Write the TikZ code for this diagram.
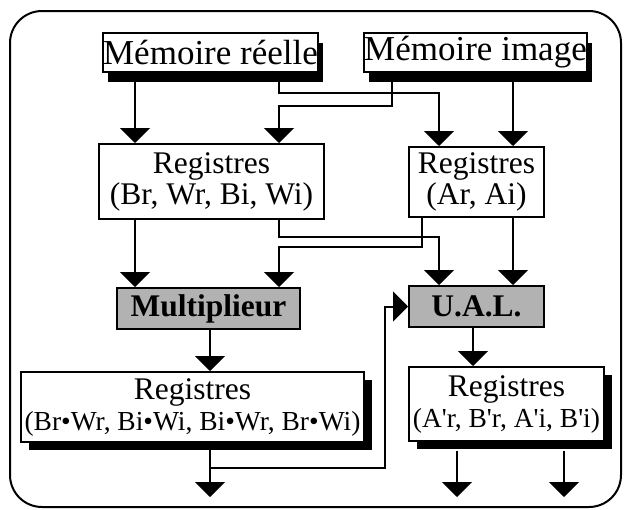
\documentclass[tikz,border=0pt]{standalone}
\usepackage{fontspec}
\setmainfont{Liberation Serif}[Ligatures=TeXOff]
\usetikzlibrary{arrows.meta,shadows,calc}
\begin{document}
\begin{tikzpicture}[x=1pt,y=-1pt,
  box/.style={draw, line width=2pt, fill=white, inner sep=0pt, align=center},
  topshadow/.style={general shadow={fill=black, shadow xshift=5pt, shadow yshift=-10pt}},
  botshadow/.style={general shadow={fill=black, shadow xshift=8pt, shadow yshift=-8pt}},
  greybox/.style={box, fill=black!30, font=\bfseries\fontsize{31.5}{31}\selectfont},
  memfont/.style={font=\fontsize{35}{35}\selectfont},
  regfont/.style={font=\fontsize{31.5}{31}\selectfont},
  arr/.style={line width=2pt, -{Triangle[width=30pt,length=15pt]}},
  frame/.style={draw, line width=2pt, rounded corners=32pt}
]
\useasboundingbox (0,0) rectangle (624,509);
\draw[frame] (10,11) rectangle (621,507);

% nodes
\node[box, topshadow, memfont, minimum width=215pt, minimum height=39pt] (mr) at (210.5,52.5) {Mémoire réelle};
\node[box, topshadow, memfont, minimum width=217pt, minimum height=39pt] (mi) at (475.5,52.5) {Mémoire image};
\node[box, regfont, minimum width=225pt, minimum height=75pt] (rg1) at (211.5,181.5) {Registres\\(Br, Wr, Bi, Wi)};
\node[box, regfont, minimum width=135pt, minimum height=70pt] (rg2) at (476.5,182) {Registres\\(Ar, Ai)};
\node[greybox, minimum width=183pt, minimum height=41pt] (mult) at (208.5,308.5) {Multiplieur};
\node[greybox, minimum width=135pt, minimum height=41pt] (ual) at (476.5,306.5) {U.A.L.};
\node[box, botshadow, regfont, minimum width=343pt, minimum height=70pt] (bb1) at (192.5,407) {Registres\\{\fontsize{27.5}{31}\selectfont (Br•Wr, Bi•Wi, Bi•Wr, Br•Wi)}};
\node[box, botshadow, regfont, minimum width=195pt, minimum height=74pt] (bb2) at (506.5,404) {Registres\\{\fontsize{27.5}{31}\selectfont (A'r, B'r, A'i, B'i)}};

% column coordinates
\coordinate (c1) at (135,0);
\coordinate (c2) at (279,0);
\coordinate (c4) at (513,0);
\coordinate (cm) at (392,0);
\coordinate (ca) at (422,0);
\coordinate (cx) at (210,0);
\coordinate (cu) at (473,0);
\coordinate (o2) at (457,0);
\coordinate (o3) at (564,0);
% bends
\coordinate (k1) at (439,93);
\coordinate (k2) at (279,106);
\coordinate (k3) at (439,237);
\coordinate (k4) at (279,247);
\coordinate (fb) at (210,468);
\coordinate (fc) at (385,306.5);
\coordinate (out1) at (210,497);
\coordinate (out2) at (457,497);
\coordinate (out3) at (564,497);

% row 1
\draw[arr] (mr.south -| c1) -- (rg1.north -| c1);
\draw[arr] (mr.south -| c2) |- (k1) -- (rg2.north -| k1);
\draw[arr] (mi.south -| cm) |- (k2) -- (rg1.north -| k2);
\draw[arr] (mi.south -| c4) -- (rg2.north -| c4);
% row 2
\draw[arr] (rg1.south -| c1) -- (mult.north -| c1);
\draw[arr] (rg1.south -| c2) |- (k3) -- (ual.north -| k3);
\draw[arr] (rg2.south -| ca) |- (k4) -- (mult.north -| k4);
\draw[arr] (rg2.south -| c4) -- (ual.north -| c4);
% row 3
\draw[arr] (mult.south -| cx) -- (bb1.north -| cx);
\draw[arr] (ual.south -| cu) -- (bb2.north -| cu);
% outputs and feedback
\draw[arr] (bb1.south -| cx) -- (out1);
\draw[arr] (fb) -| (fc) -- (ual.west);
\draw[arr] ($(bb2.south -| o2)+(0,9)$) -- (out2);
\draw[arr] ($(bb2.south -| o3)+(0,9)$) -- (out3);
\end{tikzpicture}
\end{document}
